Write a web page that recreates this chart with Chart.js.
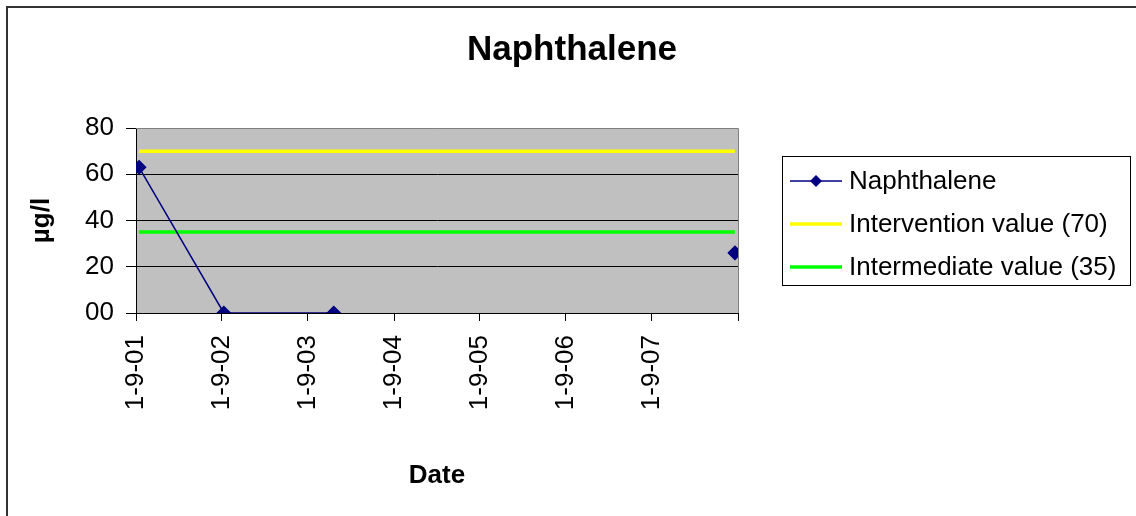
<!DOCTYPE html>
<html>
<head>
<meta charset="utf-8">
<script src="https://cdn.jsdelivr.net/npm/chart.js@4/dist/chart.umd.min.js"></script>
<style>
  html, body { margin: 0; padding: 0; background: #fff; }
  #wrap { width: 1136px; height: 516px; position: relative; }
</style>
</head>
<body>
<div id="wrap"><canvas id="c" width="1136" height="516"></canvas></div>
<script>
// Sampling dates (d-m-yyyy) and measured concentrations in µg/l
const sampleDates = ['14-9-2001', '9-9-2002', '20-12-2003', '1-3-2006', '19-8-2008'];
const naphthalene = [63, 0, 0, null, 26];

// Reference levels
const interventionValue = 70;
const intermediateValue = 35;

// Axis settings
const axisStartYears = [2001, 2002, 2003, 2004, 2005, 2006, 2007, 2008];
const yTicks = [0, 20, 40, 60, 80];

const chartTitle = 'Naphthalene';
const seriesLabels = ['Naphthalene', 'Intervention value (70)', 'Intermediate value (35)'];
const seriesColors = ['#000080', '#FFFF00', '#00FF00'];

function parseDate(s) {
  const [d, m, y] = s.split('-').map(Number);
  return Date.UTC(y, m - 1, d);
}
function sept1(y) { return Date.UTC(y, 8, 1); }
function fmtTick(ms) {
  const dt = new Date(ms);
  const yy = String(dt.getUTCFullYear() % 100).padStart(2, '0');
  return dt.getUTCDate() + '-' + (dt.getUTCMonth() + 1) + '-' + yy;
}

const xs = sampleDates.map(parseDate);
const firstX = xs[0], lastX = xs[xs.length - 1];

const mainPoints = xs.map((x, i) => ({ x: x, y: naphthalene[i] }));
const interventionPoints = [{ x: firstX, y: interventionValue }, { x: lastX, y: interventionValue }];
const intermediatePoints = [{ x: firstX, y: intermediateValue }, { x: lastX, y: intermediateValue }];

const FONT = "'Liberation Sans', Arial, sans-serif";

// White page, outer chart border, grey plot area with a thin grey frame
const plotBackground = {
  id: 'plotBackground',
  beforeDraw(chart) {
    const { ctx, chartArea: a } = chart;
    ctx.save();
    ctx.fillStyle = '#fff';
    ctx.fillRect(0, 0, chart.width, chart.height);
    ctx.strokeStyle = '#333';
    ctx.lineWidth = 2;
    ctx.beginPath();
    ctx.moveTo(7, chart.height + 5);
    ctx.lineTo(7, 7);
    ctx.lineTo(chart.width + 5, 7);
    ctx.stroke();
    ctx.fillStyle = '#C0C0C0';
    ctx.fillRect(a.left, a.top, a.right - a.left, a.bottom - a.top);
    ctx.restore();
  },
  beforeDatasetsDraw(chart) {
    const { ctx, chartArea: a } = chart;
    ctx.save();
    ctx.strokeStyle = '#808080';
    ctx.lineWidth = 1;
    ctx.beginPath();
    ctx.moveTo(a.left, a.top + 0.5);
    ctx.lineTo(a.right + 0.5, a.top + 0.5);
    ctx.lineTo(a.right + 0.5, a.bottom);
    ctx.stroke();
    ctx.restore();
  }
};

// Chart title, centred across the whole canvas
const pageTitle = {
  id: 'pageTitle',
  afterDraw(chart) {
    const { ctx } = chart;
    ctx.save();
    ctx.font = 'bold 35px ' + FONT;
    ctx.fillStyle = '#000';
    ctx.textAlign = 'center';
    ctx.textBaseline = 'alphabetic';
    ctx.fillText(chartTitle, 572, 60);
    ctx.restore();
  }
};

// Boxed legend on the right-hand side
const boxLegend = {
  id: 'boxLegend',
  afterDraw(chart) {
    const { ctx } = chart;
    const box = { x: 782, y: 156, w: 348, h: 129 };
    const rows = [181, 224, 267];
    ctx.save();
    ctx.strokeStyle = '#000';
    ctx.lineWidth = 1;
    ctx.strokeRect(box.x + 0.5, box.y + 0.5, box.w, box.h);
    ctx.font = '26px ' + FONT;
    ctx.textBaseline = 'middle';
    ctx.textAlign = 'left';
    chart.data.datasets.forEach((ds, i) => {
      const y = rows[i];
      ctx.strokeStyle = ds.borderColor;
      ctx.lineWidth = ds.borderWidth;
      ctx.beginPath();
      ctx.moveTo(790, y);
      ctx.lineTo(842, y);
      ctx.stroke();
      if (ds.pointRadius > 0) {
        ctx.fillStyle = ds.pointBackgroundColor;
        const r = 6;
        ctx.beginPath();
        ctx.moveTo(816, y - r);
        ctx.lineTo(816 + r, y);
        ctx.lineTo(816, y + r);
        ctx.lineTo(816 - r, y);
        ctx.closePath();
        ctx.fill();
      }
      ctx.fillStyle = '#000';
      ctx.fillText(ds.label, 849, y + 1);
    });
    ctx.restore();
  }
};

new Chart(document.getElementById('c'), {
  type: 'line',
  data: {
    datasets: [
      {
        label: seriesLabels[0],
        data: mainPoints,
        borderColor: seriesColors[0],
        backgroundColor: seriesColors[0],
        pointBackgroundColor: seriesColors[0],
        pointBorderColor: seriesColors[0],
        borderWidth: 1.5,
        pointStyle: 'rectRot',
        pointRadius: 6.5,
        spanGaps: false,
        tension: 0
      },
      {
        label: seriesLabels[1],
        data: interventionPoints,
        borderColor: seriesColors[1],
        borderWidth: 3.5,
        pointRadius: 0,
        tension: 0
      },
      {
        label: seriesLabels[2],
        data: intermediatePoints,
        borderColor: seriesColors[2],
        borderWidth: 3.5,
        pointRadius: 0,
        tension: 0
      }
    ]
  },
  plugins: [plotBackground, pageTitle, boxLegend],
  options: {
    responsive: false,
    animation: false,
    devicePixelRatio: 1,
    layout: { padding: { left: 8, right: 398, top: 128, bottom: 0 } },
    plugins: {
      legend: { display: false },
      tooltip: { enabled: false },
      title: { display: false }
    },
    scales: {
      x: {
        type: 'linear',
        min: sept1(axisStartYears[0]),
        max: sept1(axisStartYears[axisStartYears.length - 1]),
        afterBuildTicks(scale) {
          scale.ticks = axisStartYears.map(y => ({ value: sept1(y) }));
        },
        afterFit(scale) { scale.height = 203; },
        border: { display: true, color: '#000', width: 1 },
        grid: {
          drawOnChartArea: false,
          drawTicks: true,
          tickLength: 8,
          tickColor: '#000',
          color: '#000'
        },
        ticks: {
          autoSkip: false,
          maxRotation: 90,
          minRotation: 90,
          padding: 14,
          color: '#000',
          font: { family: FONT, size: 26 },
          callback(v) {
            return v >= sept1(axisStartYears[axisStartYears.length - 1]) ? '' : fmtTick(v);
          }
        },
        title: {
          display: true,
          text: 'Date',
          color: '#000',
          font: { family: FONT, size: 26, weight: 'bold', lineHeight: 1.2 },
          padding: { top: 0, bottom: 25 }
        }
      },
      y: {
        min: 0,
        max: 80,
        afterBuildTicks(scale) {
          scale.ticks = yTicks.map(v => ({ value: v }));
        },
        afterFit(scale) { scale.width = 128; },
        border: { display: true, color: '#000', width: 1 },
        grid: {
          drawTicks: true,
          tickLength: 10,
          tickColor: '#000',
          color(ctx) { return ctx.tick && ctx.tick.value === 80 ? '#808080' : '#000'; },
          lineWidth: 1
        },
        ticks: {
          padding: 12,
          color: '#000',
          font: { family: FONT, size: 26 },
          callback(v) { return String(v).padStart(2, '0'); }
        },
        title: {
          display: true,
          text: 'µg/l',
          color: '#000',
          font: { family: FONT, size: 26, weight: 'bold', lineHeight: 1.2 },
          padding: { top: 18, bottom: 0 }
        }
      }
    }
  }
});
</script>
</body>
</html>
